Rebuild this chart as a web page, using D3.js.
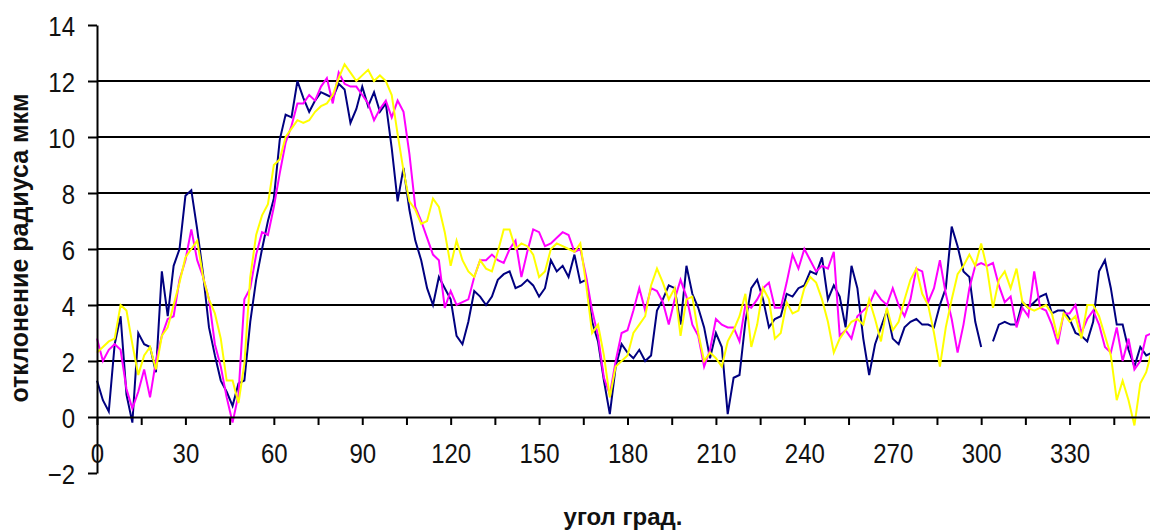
<!DOCTYPE html>
<html>
<head>
<meta charset="utf-8">
<script src="https://cdn.jsdelivr.net/npm/d3@7"></script>
<style>
  html, body { margin: 0; padding: 0; background: #fff; }
  svg { display: block; font-family: "Liberation Sans", Arial, sans-serif; }
</style>
</head>
<body>
<svg id="chart" width="1150" height="530"></svg>
<script>
// readings taken every 2 degrees, 0..358
const angles = d3.range(0, 360, 2);

const navy = [
  1.3, 0.6, 0.2, 2.6, 3.6, 0.8, -0.2, 3.0, 2.6, 2.5,
  1.6, 5.2, 3.6, 5.4, 6.0, 7.9, 8.1, 6.7, 5.1, 3.2,
  2.2, 1.3, 0.9, 0.4, 1.2, 1.3, 3.4, 4.9, 6.0, 7.0,
  7.8, 9.9, 10.8, 10.7, 12.0, 11.4, 10.9, 11.3, 11.6, 11.5,
  11.4, 11.9, 11.7, 10.5, 11.0, 11.8, 11.1, 11.6, 10.9, 11.2,
  9.6, 7.7, 8.9, 7.4, 6.3, 5.6, 4.6, 4.0, 5.0, 4.6,
  4.2, 2.9, 2.6, 3.4, 4.5, 4.3, 4.0, 4.3, 4.9, 5.1,
  5.2, 4.6, 4.7, 4.9, 4.7, 4.3, 4.6, 5.6, 5.2, 5.4,
  5.0, 5.8, 4.8, 4.9, 3.4, 2.7, 1.3, 0.1, 1.8, 2.6,
  2.3, 2.1, 2.4, 2.0, 2.2, 3.8, 4.2, 4.7, 4.6, 3.3,
  5.4, 4.4, 3.9, 3.2, 2.1, 3.0, 2.5, 0.1, 1.4, 1.5,
  3.4, 4.6, 4.9, 4.2, 3.2, 3.5, 3.6, 4.4, 4.3, 4.6,
  4.7, 5.2, 5.1, 5.7, 4.2, 4.7, 4.3, 3.2, 5.4, 4.6,
  2.8, 1.5, 2.6, 3.2, 3.8, 2.8, 2.6, 3.2, 3.4, 3.5,
  3.3, 3.3, 3.2, 4.0, 4.6, 6.8, 6.1, 5.2, 5.0, 3.4,
  2.5, null, 2.7, 3.3, 3.4, 3.3, 3.3, 4.1, 3.9, 4.1,
  4.3, 4.4, 3.7, 3.8, 3.8, 3.5, 3.0, 2.9, 2.7, 3.4,
  5.2, 5.6, 4.6, 3.3, 3.3, 2.4, 1.8, 2.5, 2.2, 2.3
];

const magenta = [
  2.8, 2.0, 2.4, 2.6, 2.4, 1.0, 0.3, 0.9, 1.7, 0.7,
  2.0, 2.9, 3.5, 3.6, 4.9, 5.6, 6.7, 5.6, 5.0, 4.2,
  2.6, 1.8, 0.7, -0.2, 0.8, 4.2, 4.6, 5.8, 6.6, 6.5,
  7.5, 8.7, 9.8, 10.4, 11.2, 11.2, 11.5, 11.3, 11.8, 12.1,
  11.2, 12.3, 11.9, 11.8, 11.8, 11.5, 11.2, 10.6, 11.0, 11.3,
  10.7, 11.3, 10.9, 9.4, 7.5, 7.0, 6.4, 5.8, 5.6, 3.9,
  4.5, 4.0, 4.1, 4.2, 5.0, 5.6, 5.6, 5.8, 5.6, 5.5,
  6.0, 6.3, 5.0, 5.9, 6.7, 6.6, 6.1, 6.2, 6.4, 6.6,
  6.5, 5.9, 6.0, 5.0, 3.8, 2.9, 1.4, 0.8, 2.0, 3.0,
  3.1, 3.8, 4.6, 3.8, 4.6, 4.5, 4.1, 3.3, 4.2, 4.9,
  4.3, 3.3, 2.9, 1.8, 2.4, 3.5, 3.3, 3.2, 3.2, 2.7,
  4.0, 3.9, 4.2, 4.6, 4.8, 3.9, 3.9, 4.8, 5.8, 5.3,
  6.0, 5.6, 5.2, 5.4, 5.3, 5.9, 2.9, 3.1, 2.8, 3.6,
  3.8, 4.0, 4.5, 4.2, 4.0, 4.6, 4.0, 3.6, 4.2, 5.3,
  5.2, 4.1, 4.6, 5.6, 4.4, 3.5, 2.3, 3.3, 4.6, 5.4,
  5.5, 5.4, 5.5, 4.7, 4.1, 4.3, 3.2, 3.9, 3.6, 5.2,
  3.9, 3.8, 3.3, 2.6, 3.7, 3.7, 4.0, 3.0, 3.5, 3.8,
  3.3, 2.5, 2.3, 3.2, 2.0, 2.8, 1.7, 2.0, 2.9, 3.0
];

const yellow = [
  2.3, 2.5, 2.7, 2.8, 4.0, 3.8, 2.6, 1.5, 2.2, 2.5,
  1.7, 2.9, 3.2, 4.0, 4.8, 5.7, 6.0, 6.3, 5.0, 4.2,
  3.7, 2.8, 1.3, 1.3, 0.5, 1.9, 5.0, 6.5, 7.2, 7.6,
  9.0, 9.2, 10.0, 10.3, 10.6, 10.5, 10.6, 10.9, 11.1, 11.2,
  11.5, 12.1, 12.6, 12.3, 12.0, 12.2, 12.4, 12.0, 12.2, 12.0,
  11.5, 10.1, 8.8, 7.7, 7.4, 6.9, 7.0, 7.8, 7.5, 6.6,
  5.4, 6.3, 5.6, 5.2, 5.0, 5.6, 5.3, 5.2, 5.9, 6.7,
  6.7, 6.0, 6.2, 6.1, 5.8, 5.0, 5.2, 6.0, 6.2, 6.1,
  6.0, 5.9, 6.2, 4.7, 3.0, 3.3, 2.2, 0.7, 1.8, 2.0,
  2.2, 3.0, 3.3, 3.6, 4.7, 5.3, 4.8, 4.2, 4.6, 2.9,
  4.2, 4.3, 3.0, 2.0, 2.3, 2.1, 1.8, 2.7, 3.1, 3.6,
  4.4, 2.5, 3.3, 4.6, 4.2, 2.8, 3.0, 4.1, 3.7, 3.8,
  4.6, 5.0, 4.8, 4.2, 3.4, 2.3, 2.8, 3.1, 3.4, 3.5,
  3.3, 4.2, 3.5, 2.7, 3.9, 3.1, 3.4, 4.2, 4.9, 5.3,
  4.4, 4.0, 3.0, 1.8, 3.2, 4.2, 5.1, 5.4, 5.8, 5.4,
  6.2, 5.3, 3.9, 4.9, 5.2, 4.6, 5.3, 4.1, 3.9, 3.8,
  3.9, 4.0, 3.7, 2.8, 3.7, 3.4, 3.6, 2.8, 4.0, 4.0,
  3.6, 2.9, 2.2, 0.6, 1.3, 0.6, -0.3, 1.2, 1.6, 2.4
];

const xTicks = d3.range(0, 360, 15);
const yTicks = d3.range(-2, 16, 2);
const gridValues = [2, 4, 6, 8, 10, 12];

const series = [
  { color: "#000080", values: navy },
  { color: "#ff00ff", values: magenta },
  { color: "#ffff00", values: yellow }
];

const W = 1150;
const svg = d3.select("#chart");

const x = d3.scaleLinear().domain([0, 360]).range([97, 1158]);
const y = d3.scaleLinear().domain([-2, 14]).range([473, 25]);

// horizontal grid
svg.append("g")
  .selectAll("line")
  .data(gridValues)
  .join("line")
  .attr("x1", x(0))
  .attr("x2", W)
  .attr("y1", (d) => y(d))
  .attr("y2", (d) => y(d))
  .attr("stroke", "#000")
  .attr("stroke-width", 2);

// series
const line = d3.line()
  .defined((d) => d != null)
  .x((d, i) => x(angles[i]))
  .y((d) => y(d));

svg.append("g")
  .selectAll("path")
  .data(series)
  .join("path")
  .attr("fill", "none")
  .attr("stroke", (d) => d.color)
  .attr("stroke-width", 2)
  .attr("d", (d) => line(d.values));

// y axis
const yAxis = svg.append("g")
  .attr("transform", `translate(${x(0)},0)`)
  .call(d3.axisLeft(y).tickValues(yTicks).tickSize(9).tickSizeOuter(0));

// x axis, crossing at 0
const xAxis = svg.append("g")
  .attr("transform", `translate(0,${y(0)})`)
  .call(
    d3.axisBottom(x)
      .tickValues(xTicks)
      .tickSize(8)
      .tickSizeOuter(0)
      .tickFormat((d) => (d % 30 === 0 ? d : ""))
  );

[yAxis, xAxis].forEach((ax) => {
  ax.select(".domain").attr("stroke", "#000").attr("stroke-width", 2);
  ax.selectAll(".tick line").attr("stroke", "#000").attr("stroke-width", 2);
  ax.selectAll(".tick text")
    .attr("fill", "#111")
    .style("font-size", "24px")
    .style("font-family", '"Liberation Sans", Arial, sans-serif');
});

yAxis.selectAll(".tick text")
  .attr("x", 0)
  .attr("dy", "0.36em")
  .attr("text-anchor", "end")
  .attr("transform", "translate(-22,0) scale(1,1.16)");

xAxis.selectAll(".tick text")
  .attr("y", 0)
  .attr("dy", "0.36em")
  .attr("transform", "translate(0,36) scale(1,1.16)");

// axis titles
svg.append("text")
  .attr("transform", "translate(28,248) rotate(-90)")
  .attr("text-anchor", "middle")
  .style("font-size", "25px")
  .style("font-weight", "bold")
  .attr("fill", "#111")
  .text("отклонение радиуса мкм");

svg.append("text")
  .attr("x", 623)
  .attr("y", 525)
  .attr("text-anchor", "middle")
  .style("font-size", "24px")
  .style("font-weight", "bold")
  .attr("fill", "#111")
  .text("угол град.");
</script>
</body>
</html>
